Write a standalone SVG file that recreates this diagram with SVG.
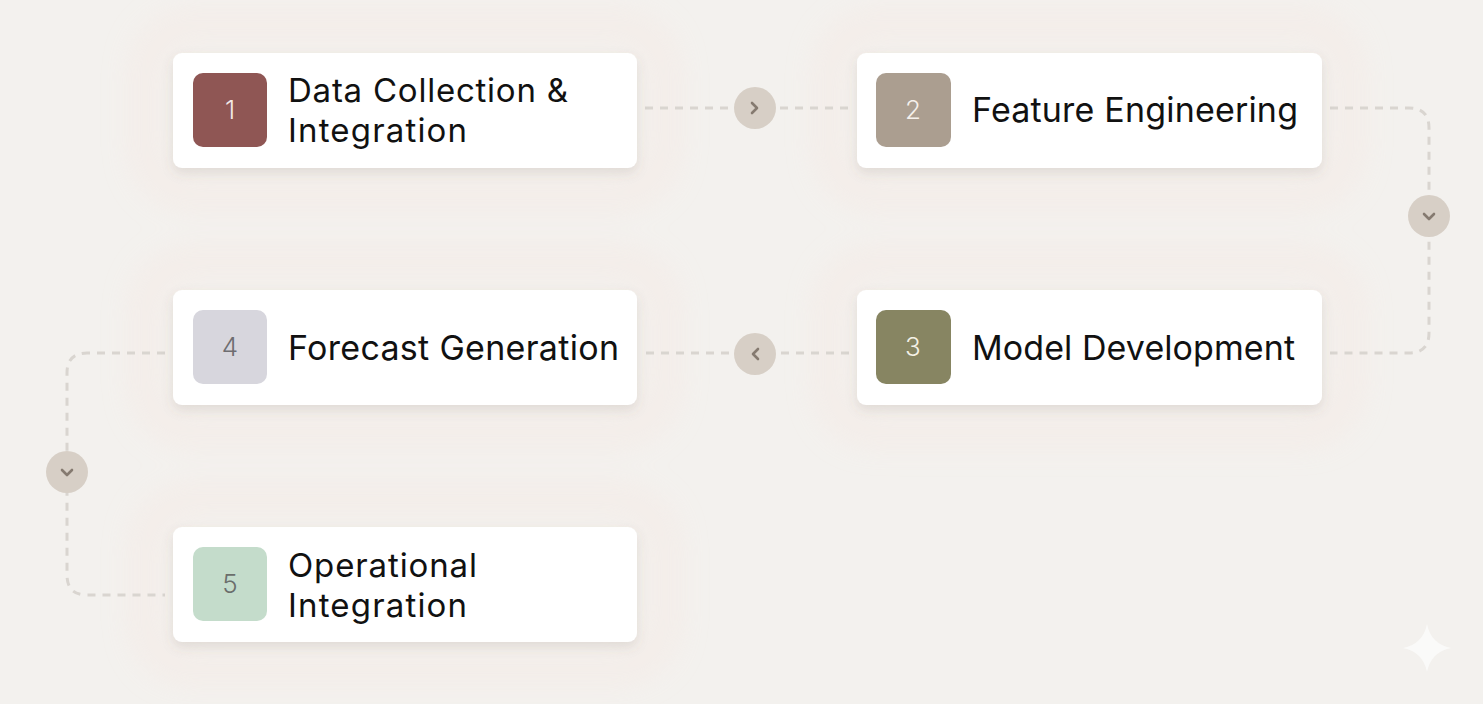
<svg xmlns="http://www.w3.org/2000/svg" width="1483" height="704" viewBox="0 0 1483 704">
  <defs>
    <filter id="shadow" x="-10%" y="-30%" width="120%" height="170%">
      <feDropShadow dx="0" dy="5" stdDeviation="6" flood-color="#6b5f55" flood-opacity="0.15"/>
    </filter>
    <filter id="blur" x="-20%" y="-20%" width="140%" height="140%">
      <feGaussianBlur stdDeviation="16"/>
    </filter>
    <style>
      .card { fill: #ffffff; filter: url(#shadow); }
      .label { font-family: Inter, "Noto Sans", "Liberation Sans", sans-serif; font-size: 34px; fill: #111111; }
      .label2 { font-family: Inter, "Noto Sans", "Liberation Sans", sans-serif; font-size: 33px; fill: #111111; }
      .num { font-family: Inter, "Noto Sans", "Liberation Sans", sans-serif; font-size: 26px; font-weight: 300; text-anchor: middle; }
      .dash { fill: none; stroke: #d9d5d0; stroke-width: 3; stroke-dasharray: 8 7; }
      .btn { fill: #d7cfc6; }
      .chev { fill: none; stroke: #857a70; stroke-width: 2.6; stroke-linecap: round; stroke-linejoin: round; }
    </style>
  </defs>

  <rect width="1483" height="704" fill="#f3f1ee"/>
  <g filter="url(#blur)" fill="none" stroke="#f6e5df" stroke-width="18" opacity="0.6">
    <rect x="145" y="25" width="520" height="170" rx="45"/>
    <rect x="829" y="25" width="520" height="170" rx="45"/>
    <rect x="145" y="262" width="520" height="170" rx="45"/>
    <rect x="829" y="262" width="520" height="170" rx="45"/>
    <rect x="145" y="499" width="520" height="170" rx="45"/>
  </g>

  <g id="connectors">
    <path class="dash" d="M645 108 H849"/>
    <path class="dash" d="M1330 108 H1409 Q1429 108 1429 128 V333 Q1429 353 1409 353 H1330"/>
    <path class="dash" d="M849 353 H645"/>
    <path class="dash" d="M165 353 H87 Q67 353 67 373 V575 Q67 595 87 595 H165"/>
    <circle class="btn" cx="755" cy="108" r="21"/>
    <path class="chev" d="M752 103 L757 108 L752 113"/>
    <circle class="btn" cx="1429" cy="216" r="21"/>
    <path class="chev" d="M1424 214 L1429 219 L1434 214"/>
    <circle class="btn" cx="755" cy="354" r="21"/>
    <path class="chev" d="M758 349 L753 354 L758 359"/>
    <circle class="btn" cx="67" cy="472" r="21"/>
    <path class="chev" d="M62 470 L67 475 L72 470"/>
  </g>

  <g id="node1">
    <rect class="card" x="173" y="53" width="464" height="115" rx="9"/>
    <rect x="193" y="73" width="74" height="74" rx="10" fill="#8f5654"/>
    <text class="num" x="230" y="119" fill="#f3e9e7">1</text>
    <text class="label2" x="288" y="102" textLength="280" lengthAdjust="spacing">Data Collection &amp;</text>
    <text class="label2" x="288" y="142" textLength="179" lengthAdjust="spacing">Integration</text>
  </g>

  <g id="node2">
    <rect class="card" x="857" y="53" width="465" height="115" rx="9"/>
    <rect x="876" y="73" width="75" height="74" rx="10" fill="#ab9e90"/>
    <text class="num" x="913" y="119" fill="#f6f1ec">2</text>
    <text class="label" x="972" y="122" textLength="326" lengthAdjust="spacing">Feature Engineering</text>
  </g>

  <g id="node3">
    <rect class="card" x="857" y="290" width="465" height="115" rx="9"/>
    <rect x="876" y="310" width="75" height="74" rx="10" fill="#878562"/>
    <text class="num" x="913" y="356" fill="#f4f1e6">3</text>
    <text class="label" x="972" y="360" textLength="323" lengthAdjust="spacing">Model Development</text>
  </g>

  <g id="node4">
    <rect class="card" x="173" y="290" width="464" height="115" rx="9"/>
    <rect x="193" y="310" width="74" height="74" rx="10" fill="#d7d6dd"/>
    <text class="num" x="230" y="356" fill="#6e6d70">4</text>
    <text class="label" x="288" y="360" textLength="331" lengthAdjust="spacing">Forecast Generation</text>
  </g>

  <g id="node5">
    <rect class="card" x="173" y="527" width="464" height="115" rx="9"/>
    <rect x="193" y="547" width="74" height="74" rx="10" fill="#c4dccb"/>
    <text class="num" x="230" y="593" fill="#6b6e6b">5</text>
    <text class="label2" x="288" y="577" textLength="189" lengthAdjust="spacing">Operational</text>
    <text class="label2" x="288" y="617" textLength="179" lengthAdjust="spacing">Integration</text>
  </g>

  <path d="M1427 624 Q1431 644 1451 648 Q1431 652 1427 672 Q1423 652 1403 648 Q1423 644 1427 624 Z" fill="#fbfbfa" opacity="0.9"/>
</svg>
